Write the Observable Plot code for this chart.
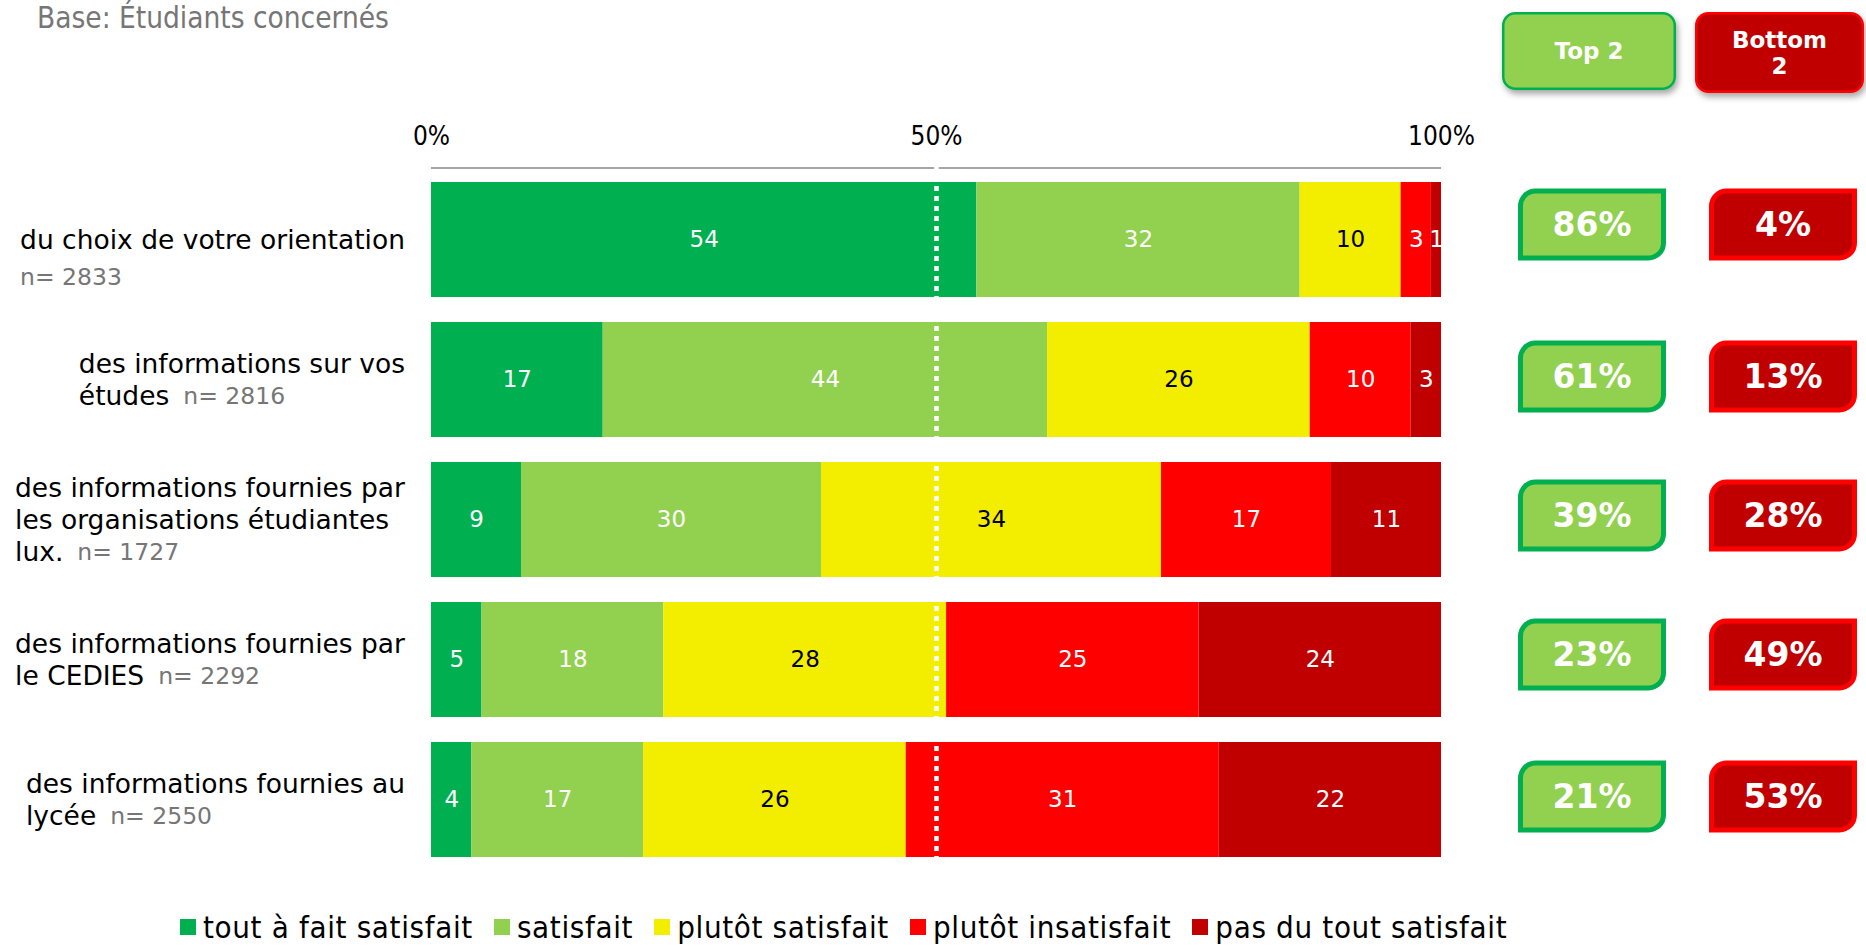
<!DOCTYPE html>
<html>
<head>
<meta charset="utf-8">
<script src="https://cdn.jsdelivr.net/npm/d3@7"></script>
<script src="https://cdn.jsdelivr.net/npm/@observablehq/plot@0.6"></script>
<style>
html, body { margin: 0; padding: 0; background: #fff; }
body { width: 1866px; height: 946px; position: relative; overflow: hidden; }
#title { position: absolute; left: 37px; top: 4px; font-family: "DejaVu Sans Condensed"; font-size: 29.5px; line-height: 29.5px; color: #767676; white-space: nowrap; }
#chart { position: absolute; left: 0; top: 0; }
#legend { position: absolute; left: 180px; top: 909px; }
#legend div, #legend span { font-family: "DejaVu Sans Condensed" !important; font-size: 31px !important; letter-spacing: 0.65px; color: #000 !important; line-height: 36px !important; }
#legend > div { margin: 0 !important; min-height: 0 !important; flex-wrap: nowrap !important; width: 1650px; height: 36px; }
#legend span { margin-right: 21px !important; height: 36px; }
#legend svg { margin-right: 7px !important; }
</style>
</head>
<body>
<div id="title">Base: Étudiants concernés</div>
<div id="chart"></div>
<div id="legend"></div>
<script>
// ---------- DATA ----------
const levels = ["tout à fait satisfait", "satisfait", "plutôt satisfait", "plutôt insatisfait", "pas du tout satisfait"];
const levelColors = ["#00B050", "#92D050", "#F3ED00", "#FF0000", "#C00000"];
const items = [
  "du choix de votre orientation",
  "des informations sur vos\nétudes",
  "des informations fournies par\nles organisations étudiantes\nlux.",
  "des informations fournies par\nle CEDIES",
  "des informations fournies au\nlycée"
];
const nValues = [2833, 2816, 1727, 2292, 2550];
const toutAFaitSatisfait = [54, 17, 9, 5, 4];
const satisfait = [32, 44, 30, 18, 17];
const plutotSatisfait = [10, 26, 34, 28, 26];
const plutotInsatisfait = [3, 10, 17, 25, 31];
const pasDuToutSatisfait = [1, 3, 11, 24, 22];
const axisTicks = [0, 0.5, 1];
const boxHeaders = ["Top 2", "Bottom\n2"];

// ---------- LAYOUT ----------
const L = {
  labelRight: 405, labelSize: 26.5, labelLineH: 32, nSize: 23.5, nGap: 14, nLineH: 37,
  boxW: 148, boxH: 72, boxR: 15, boxStroke: 5,
  topBoxCx: 1592, bottomBoxCx: 1783, boxDy: [-15, -3, -4, -5, -3],
  hdrTop: {x: 1502, y: 12, w: 174, h: 78}, hdrBottom: {x: 1695, y: 12, w: 169, h: 81},
  axisGap: 12
};

const series = [toutAFaitSatisfait, satisfait, plutotSatisfait, plutotInsatisfait, pasDuToutSatisfait];
const colorOf = Object.fromEntries(levels.map((l, i) => [l, levelColors[i]]));
const rows = items.flatMap((item, i) => series.map((vals, j) => ({item, level: levels[j], value: vals[i]})));
const top2 = items.map((_, i) => series[0][i] + series[1][i]);
const bottom2 = items.map((_, i) => series[3][i] + series[4][i]);

function bw(scale) {
  return typeof scale.bandwidth === "function" ? scale.bandwidth() : scale.bandwidth;
}

const canvas = document.createElement("canvas");
const ctx = canvas.getContext("2d");
function measure(text, font) { ctx.font = font; return ctx.measureText(text).width; }

function labelsMark(index, scales, values, dims) {
  const g = d3.create("svg:g").attr("text-anchor", "start");
  const b = bw(scales.y);
  const mainFont = `${L.labelSize}px "DejaVu Sans"`;
  const nFont = `${L.nSize}px "DejaVu Sans"`;
  items.forEach((item, i) => {
    const lines = item.split("\n");
    const nText = "n= " + nValues[i];
    const widths = lines.map(l => measure(l, mainFont));
    const maxW = Math.max(...widths);
    const nW = measure(nText, nFont);
    const lastW = widths[widths.length - 1];
    const inline = lastW + L.nGap + nW <= maxW;
    const x0 = L.labelRight - maxW;
    const cy = scales.y(item) + b / 2;
    const top = cy - (lines.length - 1) * L.labelLineH / 2;
    lines.forEach((l, k) => {
      g.append("text").attr("x", x0).attr("y", top + k * L.labelLineH).attr("dy", "0.35em")
        .attr("text-anchor", "start")
        .attr("font-family", "DejaVu Sans").attr("font-size", L.labelSize).attr("fill", "#000").text(l);
    });
    const lastY = top + (lines.length - 1) * L.labelLineH;
    g.append("text")
      .attr("x", inline ? x0 + lastW + L.nGap : x0)
      .attr("y", inline ? lastY : lastY + L.nLineH)
      .attr("dy", "0.35em").attr("text-anchor", "start")
      .attr("font-family", "DejaVu Sans").attr("font-size", L.nSize).attr("fill", "#767676").text(nText);
  });
  return g.node();
}

function axisLineMark(index, scales, values, dims) {
  const y = dims.marginTop + L.axisGap;
  return d3.create("svg:line")
    .attr("x1", scales.x(0)).attr("x2", scales.x(1)).attr("y1", y).attr("y2", y)
    .attr("stroke", "#a6a6a6").attr("stroke-width", 2).node();
}

function boxPath(x, y, w, h, r) {
  return `M${x + r},${y}H${x + w}V${y + h - r}A${r},${r} 0 0 1 ${x + w - r},${y + h}H${x}V${y + r}A${r},${r} 0 0 1 ${x + r},${y}Z`;
}

function boxesMark(index, scales, values, dims) {
  const g = d3.create("svg:g").attr("text-anchor", "middle");
  const defs = g.append("defs");
  defs.append("filter").attr("id", "hdrShadow").attr("x", "-20%").attr("y", "-20%").attr("width", "150%").attr("height", "170%")
    .append("feDropShadow").attr("dx", 2).attr("dy", 4).attr("stdDeviation", 3)
    .attr("flood-color", "#000").attr("flood-opacity", 0.35);
  const hdrs = [
    {label: boxHeaders[0], box: L.hdrTop, fill: levelColors[1], stroke: levelColors[0]},
    {label: boxHeaders[1], box: L.hdrBottom, fill: levelColors[4], stroke: levelColors[3]}
  ];
  hdrs.forEach(h => {
    const {x, y, w} = h.box;
    const hgt = h.box.h;
    g.append("rect").attr("x", x + 1.25).attr("y", y + 1.25).attr("width", w - 2.5).attr("height", hgt - 2.5)
      .attr("rx", 12).attr("fill", h.fill).attr("stroke", h.stroke).attr("stroke-width", 2.5)
      .attr("filter", "url(#hdrShadow)");
    const lines = h.label.split("\n");
    const cy = y + hgt / 2;
    const lh = 26;
    lines.forEach((l, k) => {
      g.append("text").attr("x", x + w / 2).attr("y", cy + (k - (lines.length - 1) / 2) * lh).attr("dy", "0.36em")
        .attr("text-anchor", "middle").attr("font-family", "DejaVu Sans").attr("font-weight", "bold")
        .attr("font-size", 23).attr("fill", "#fff").text(l);
    });
  });
  const b = bw(scales.y);
  const s = L.boxStroke;
  items.forEach((item, i) => {
    const cy = scales.y(item) + b / 2 + L.boxDy[i];
    [[L.topBoxCx, top2[i], levelColors[1], levelColors[0]], [L.bottomBoxCx, bottom2[i], levelColors[4], levelColors[3]]]
      .forEach(([cx, v, fill, stroke]) => {
        const x = cx - L.boxW / 2, y = cy - L.boxH / 2;
        g.append("path").attr("d", boxPath(x + s / 2, y + s / 2, L.boxW - s, L.boxH - s, L.boxR))
          .attr("fill", fill).attr("stroke", stroke).attr("stroke-width", s);
        g.append("text").attr("x", cx).attr("y", cy).attr("dy", "0.36em").attr("text-anchor", "middle")
          .attr("font-family", "DejaVu Sans").attr("font-weight", "bold").attr("font-size", 33)
          .attr("fill", "#fff").text(v + "%");
      });
  });
  return g.node();
}

const chart = Plot.plot({
  width: 1866,
  height: 895,
  marginLeft: 431,
  marginRight: 425,
  marginTop: 156,
  marginBottom: 12,
  x: {domain: [0, 1], axis: null},
  y: {domain: items, padding: 0.18, axis: null},
  color: {type: "identity"},
  style: {fontFamily: "DejaVu Sans", background: "transparent", overflow: "visible"},
  marks: [
    Plot.barX(rows, Plot.stackX({x: "value", y: "item", z: "level", offset: "normalize", fill: d => colorOf[d.level]})),
    Plot.text(rows, Plot.stackX({
      x: "value", y: "item", z: "level", offset: "normalize",
      text: d => String(d.value),
      fill: d => d.level === levels[2] ? "#000000" : "#ffffff",
      fontSize: 23, fontFamily: "DejaVu Sans"
    })),
    axisLineMark,
    Plot.ruleX([0.5], {stroke: "#ffffff", strokeWidth: 4.5, strokeDasharray: "5,5"}),
    Plot.text(axisTicks, {x: d => d, text: d => d3.format(".0%")(d), frameAnchor: "top", lineAnchor: "middle", dy: -20,
      fontSize: 26, fontFamily: "DejaVu Sans Condensed", fill: "#000"}),
    labelsMark,
    boxesMark
  ]
});
document.getElementById("chart").appendChild(chart);

const legend = Plot.legend({
  color: {type: "ordinal", domain: levels, range: levelColors},
  legend: "swatches",
  swatchSize: 16
});
document.getElementById("legend").appendChild(legend);
</script>
</body>
</html>
